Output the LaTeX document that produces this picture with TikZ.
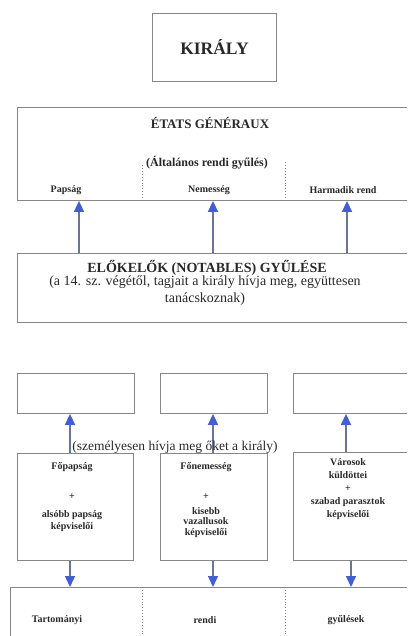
\documentclass[tikz,border=0pt]{standalone}
\usepackage{fontspec}
\setmainfont{Liberation Serif}
\usetikzlibrary{arrows.meta,positioning,calc}
\definecolor{headblue}{RGB}{66,94,214}
\definecolor{shaftgray}{RGB}{105,116,150}
\definecolor{framegray}{RGB}{135,135,135}
\definecolor{inkgray}{RGB}{40,40,40}

\begin{document}
\begin{tikzpicture}[
    x=1pt, y=-1pt,
    frame/.style={rectangle, draw=framegray, line width=0.9pt, inner sep=0pt, anchor=north west},
    lbl/.style={text=inkgray, inner sep=0pt, align=center, font=\bfseries\fontsize{10}{12}\selectfont},
    plain/.style={text=inkgray, inner sep=0pt, align=center, font=\fontsize{13}{17}\selectfont},
    sep/.style={draw=framegray, dotted, line width=0.9pt},
    rise/.style={draw=shaftgray, line width=1.5pt, -{Triangle[length=11pt, width=10pt, color=headblue]}},
]
    \useasboundingbox (0,0) rectangle (407,636);
    \clip (0,0) rectangle (407,636);

    % king and the estates general
    \node[frame, minimum width=124, minimum height=68, font=\bfseries\fontsize{17.5}{20}\selectfont, text=inkgray] (kiraly) at (152,13) {KIRÁLY};
    \node[frame, minimum width=400, minimum height=93] (etats) at (17,107) {};
    \node[lbl, font=\bfseries\fontsize{13}{15}\selectfont] (etatsname) at (210,123) {ÉTATS GÉNÉRAUX};
    \node[lbl, font=\bfseries\fontsize{12}{14}\selectfont] (etatssub) at (207,163) {(Általános rendi gyűlés)};
    \node[lbl] (papsag) at (66,190) {Papság};
    \node[lbl] (nemesseg) at (209,190) {Nemesség};
    \node[lbl] (harmadik) at (343,190) {Harmadik rend};
    \draw[sep] (etats.south -| 142,0) -- ++(0,-36);
    \draw[sep] (etats.south -| 285,0) -- ++(0,-40);

    % notables
    \node[frame, minimum width=400, minimum height=69] (notables) at (17,253) {};
    \node[lbl, font=\bfseries\fontsize{14}{16}\selectfont] (notname) at (207,268) {ELŐKELŐK (NOTABLES) GYŰLÉSE};
    \node[plain, font=\fontsize{14}{17}\selectfont] (notsub) at (205,291) {(a 14. sz. végétől, tagjait a király hívja meg, együttesen\\tanácskoznak)};
    \foreach \x in {79,213,347}
        \draw[rise] (notables.north -| \x,0) -- (etats.south -| \x,0);

    % seats and the three orders
    \node[frame, minimum width=117, minimum height=40] (seatA) at (17,373) {};
    \node[frame, minimum width=107, minimum height=40] (seatB) at (160,373) {};
    \node[frame, minimum width=120, minimum height=40] (seatC) at (293,373) {};
    \node[frame, minimum width=116, minimum height=107] (estA) at (17,453) {};
    \node[frame, minimum width=107, minimum height=107] (estB) at (160,453) {};
    \node[frame, minimum width=120, minimum height=108] (estC) at (293,452) {};
    \node[lbl, anchor=north] (estAtxt) at (72,462) {Főpapság\\[18pt]+\\[6pt]alsóbb papság\\képviselői};
    \node[lbl, anchor=north] (estBtxt) at (206,462) {Főnemesség\\[18pt]+\\[3pt]kisebb\\[-2pt]vazallusok\\[-1pt]képviselői};
    \node[lbl, anchor=north] (estCtxt) at (348,458) {Városok\\[1pt]küldöttei\\[1pt]+\\[1pt]szabad parasztok\\[1pt]képviselői};
    \foreach \x/\src/\dst in {70/estA/seatA, 213/estB/seatB, 346/estC/seatC}
        \draw[rise] (\src.north -| \x,0) -- (\dst.south -| \x,0);
    \node[plain, font=\fontsize{13.5}{16}\selectfont] (summon) at (175,447) {(személyesen hívja meg őket a király)};

    % provincial diets
    \node[frame, minimum width=410, minimum height=60] (diets) at (10,587) {};
    \draw[sep] (diets.north -| 142,0) -- (diets.south -| 142,0);
    \draw[sep] (diets.north -| 285,0) -- (diets.south -| 285,0);
    \node[lbl] (tart) at (57,620) {Tartományi};
    \node[lbl] (rendi) at (205,620) {rendi};
    \node[lbl] (gyul) at (346,620) {gyűlések};
    \foreach \x/\src in {70/estA, 213/estB, 351/estC}
        \draw[rise] (\src.south -| \x,0) -- (diets.north -| \x,0);
\end{tikzpicture}
\end{document}
